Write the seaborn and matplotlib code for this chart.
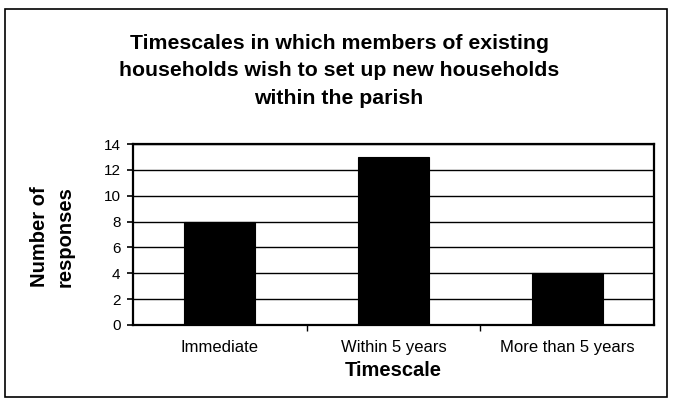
import matplotlib
matplotlib.use('Agg')
import matplotlib.pyplot as plt
import seaborn as sns
import pandas as pd
from matplotlib.patches import Rectangle

# Chart data
categories = ['Immediate', 'Within 5 years', 'More than 5 years']
responses = [8, 13, 4]
y_ticks = [0, 2, 4, 6, 8, 10, 12, 14]

df = pd.DataFrame({'timescale': categories, 'responses': responses})

sns.set_style('white')
plt.rcParams['font.family'] = ['Liberation Sans', 'DejaVu Sans']
plt.rcParams.update({'text.color': 'black', 'axes.labelcolor': 'black',
                     'xtick.color': 'black', 'ytick.color': 'black'})

W, H = 678, 400
fig = plt.figure(figsize=(6.78, 4.0), dpi=100)
# plot area in pixels: left 133, right 654, top 144, bottom 325
ax = fig.add_axes([133 / W, 1 - 325 / H, (654 - 133) / W, (325 - 144) / H])

sns.barplot(data=df, x='timescale', y='responses', color='black',
            width=0.41, saturation=1, edgecolor='black', linewidth=0.8,
            ax=ax, zorder=3)

ax.set_ylim(0, 14)
ax.set_yticks(y_ticks)
ax.set_xlim(-0.5, 2.5)
ax.yaxis.grid(True, color='black', linewidth=1.0)
ax.set_axisbelow(True)
for s in ax.spines.values():
    s.set_visible(True)
    s.set_color('black')
    s.set_linewidth(1.6)

# category ticks sit at the boundaries between bars
ax.set_xticks([0, 1, 2])
ax.set_xticklabels(categories, fontsize=12)
ax.tick_params(axis='x', length=0, pad=11)
ax.set_xticks([0.5, 1.5], minor=True)
ax.tick_params(axis='x', which='minor', length=4, width=1, direction='out', bottom=True)
ax.tick_params(axis='y', length=4, width=1.2, direction='out', left=True,
               labelsize=11, pad=5)

ax.set_xlabel('Timescale', fontsize=14.5, fontweight='bold')
ax.xaxis.set_label_coords(0.5, (325 - 361) / 181)
ax.set_ylabel('Number of\nresponses', fontsize=14.5, fontweight='bold', linespacing=1.45)
ax.yaxis.set_label_coords((75 - 133) / 521, 0.49)

fig.text(0.5, 1 - 71 / H, 'Timescales in which members of existing\n'
         'households wish to set up new households\nwithin the parish',
         ha='center', va='center', fontsize=15.3, fontweight='bold', linespacing=1.55)

# outer chart frame
fig.patches.append(Rectangle((5 / W, 1 - 397 / H), 662 / W, 388 / H,
                             transform=fig.transFigure, fill=False,
                             edgecolor='black', linewidth=1.2))

fig.savefig('out.png', dpi=100)
